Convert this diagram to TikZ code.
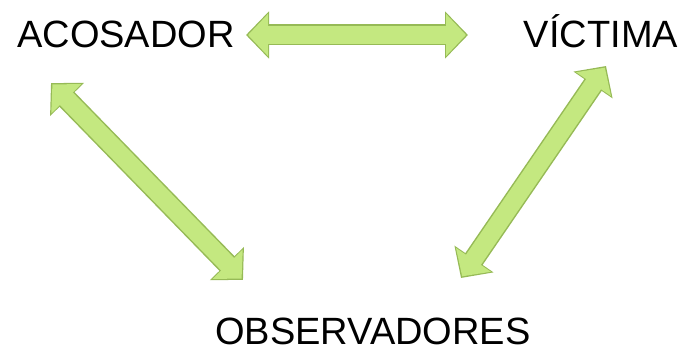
\documentclass[tikz,border=0pt]{standalone}
\usepackage{fontspec}
\setmainfont{Liberation Sans}
\usetikzlibrary{arrows.meta}
\definecolor{arrowfill}{RGB}{196,232,128}
\definecolor{arrowedge}{RGB}{150,186,86}
\tikzset{
	role/.style={inner sep=0pt, anchor=base, font=\fontsize{38}{40}\selectfont},
	fat/.style={line width=21pt, draw=arrowedge,
		{Triangle[length=23pt,width=46pt]}-{Triangle[length=23pt,width=46pt]},
		postaction={draw=arrowfill, line width=18pt, shorten <=2pt, shorten >=2pt,
			{Triangle[length=20pt,width=41pt]}-{Triangle[length=20pt,width=41pt]}}}
}
\begin{document}
\begin{tikzpicture}[x=1pt,y=-1pt]
		\useasboundingbox (0,0) rectangle (683,352);
		\node[role] (acos) at (126,48) {ACOSADOR};
		\node[role] (vict) at (601,48) {VÍCTIMA};
		\node[role] (obs) at (373,345) {OBSERVADORES};
		\coordinate (a1) at (246,35); \coordinate (v1) at (468,35);
		\coordinate (a2) at (51,83); \coordinate (o1) at (243,280);
		\coordinate (v2) at (606,66); \coordinate (o2) at (461,278);
		\draw[fat] (a1) -- (v1);
		\draw[fat] (a2) -- (o1);
		\draw[fat] (v2) -- (o2);
	\end{tikzpicture}
\end{document}
